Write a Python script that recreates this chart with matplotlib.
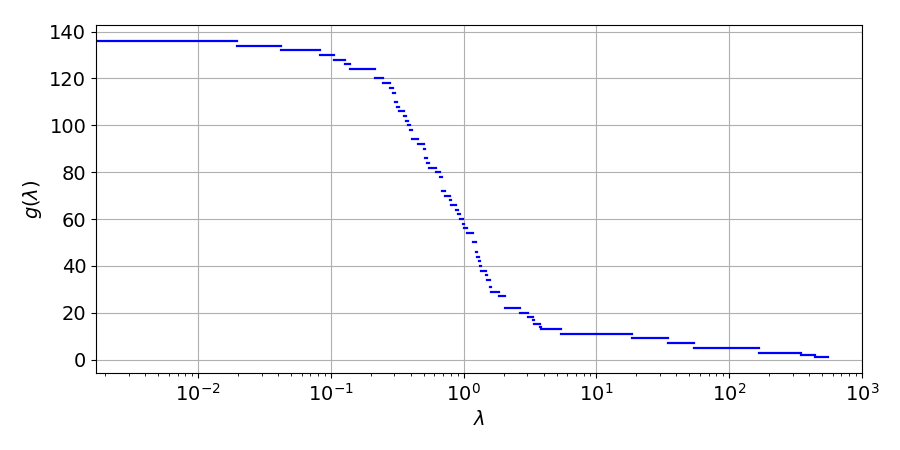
import matplotlib
matplotlib.use("Agg")
import matplotlib.pyplot as plt

# step levels of g(lambda) and the lambda breakpoints between them
levels = [136, 134, 132, 130, 128, 126, 124, 120, 118, 116, 114, 110, 108, 106,
          104, 102, 100, 98, 94, 92, 90, 86, 84, 82, 80, 78, 72, 70, 68, 66, 64,
          62, 60, 58, 56, 54, 50, 46, 44, 42, 40, 38, 36, 34, 31, 29, 27, 22, 20,
          18, 17, 15, 14, 13, 11, 9, 7, 5, 3, 2, 1]
breaks = [0.0017, 0.0197, 0.0422, 0.0829, 0.1057, 0.128, 0.1395, 0.2154, 0.247,
          0.279, 0.294, 0.304, 0.3125, 0.3265, 0.356, 0.365, 0.381, 0.394, 0.408,
          0.454, 0.499, 0.512, 0.530, 0.548, 0.619, 0.659, 0.688, 0.724, 0.790,
          0.804, 0.877, 0.900, 0.940, 0.981, 1.007, 1.061, 1.177, 1.240, 1.262,
          1.306, 1.328, 1.352, 1.475, 1.500, 1.580, 1.608, 1.848, 2.050, 2.66,
          3.05, 3.30, 3.39, 3.76, 3.83, 5.41, 18.5, 34.6, 54.4, 168, 348, 439, 555]

fig = plt.figure(figsize=(9, 4.5), dpi=100)
ax = fig.add_axes([0.1067, 0.171, 0.8511, 0.773])

# one line per step, so each gets the default projecting cap
for g, a, b in zip(levels, breaks[:-1], breaks[1:]):
    ax.plot([a, b], [g, g], color="blue", linewidth=1.6)

ax.set_xscale("log")
ax.set_xlim(0.0017, 1000)
ax.grid(True, color="#b0b0b0")
ax.set_axisbelow(True)
ax.set_xlabel(r"$\lambda$", fontsize=14)
ax.set_ylabel(r"$g(\lambda)$", fontsize=14)
ax.tick_params(labelsize=14)

fig.savefig("out.png", dpi=100)
